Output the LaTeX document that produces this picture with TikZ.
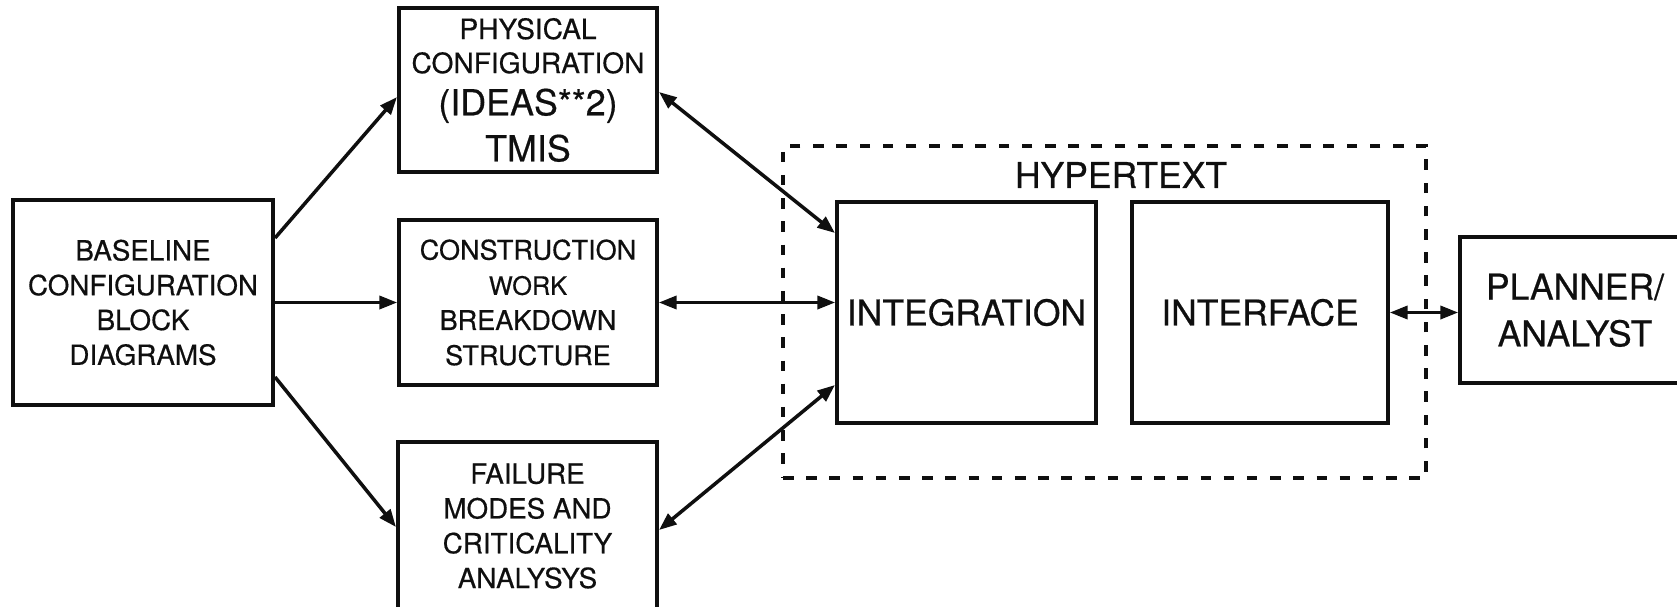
\documentclass[tikz,border=0pt]{standalone}
\usepackage{fontspec}
\setmainfont{TeX Gyre Heros}[FakeBold=0.5]
\usepackage{tikz}
\usetikzlibrary{arrows.meta}
\definecolor{figline}{RGB}{15,15,15}
\tikzset{
  blk/.style ={draw=figline, line width=1.15pt, inner sep=0pt, align=center, text=figline},
  txs/.style ={font=\fontsize{7.9}{9.9}\selectfont},
  txb/.style ={font=\fontsize{10.1}{12}\selectfont},
  hyp/.style ={draw=figline, line width=0.9pt, dash pattern=on 3pt off 3.6pt},
  ar/.style  ={draw=figline, line width=1pt, -{Triangle[length=5pt,width=3.8pt]}},
  arr/.style ={draw=figline, line width=1pt, {Triangle[length=5pt,width=3.8pt]}-{Triangle[length=5pt,width=3.8pt]}},
}

\begin{document}
\begin{tikzpicture}
  \path[use as bounding box, clip] (0,0) rectangle (16.77,-6.06);
  \node[hyp, minimum width=6.43cm, minimum height=3.32cm] (hypbox) at (11.045,-3.12) {};
  \node[txb, text=figline, inner sep=0pt] (hyptxt) at (11.21,-1.75) {HYPERTEXT};
  \node[blk, txs, minimum width=2.60cm, minimum height=2.05cm] (base) at (1.43,-3.025)
    {BASELINE\\CONFIGURATION\\BLOCK\\DIAGRAMS};
  \node[blk, font=\fontsize{8}{9.7}\selectfont, minimum width=2.58cm, minimum height=1.64cm] (phys) at (5.28,-0.90)
    {PHYSICAL\\CONFIGURATION\\[2.3pt]{\fontsize{10.2}{12}\selectfont (IDEAS**2)}\\[2.3pt]{\fontsize{10.2}{12}\selectfont TMIS}};
  \node[blk, font=\fontsize{7.7}{10}\selectfont, minimum width=2.58cm, minimum height=1.65cm] (cons) at (5.28,-3.025)
    {CONSTRUCTION\\{\fontsize{7.2}{10}\selectfont WORK}\\BREAKDOWN\\STRUCTURE};
  \node[blk, txs, minimum width=2.59cm, minimum height=1.68cm] (fail) at (5.275,-5.26)
    {FAILURE\\MODES AND\\CRITICALITY\\ANALYSYS};
  \node[blk, txb, minimum width=2.59cm, minimum height=2.21cm] (integ) at (9.665,-3.125) {INTEGRATION};
  \node[blk, txb, minimum width=2.56cm, minimum height=2.21cm] (intf) at (12.60,-3.125) {INTERFACE};
  \node[blk, txb, font=\fontsize{10.1}{13.3}\selectfont, minimum width=2.30cm, minimum height=1.46cm,
    text depth=-0.5mm] (plan) at (15.75,-3.10) {PLANNER/\\ANALYST};
  \draw[ar] ([yshift=6.45mm]base.east) -- ([yshift=-0.7mm]phys.west);
  \draw[ar, line width=0.7pt] (base.east) -- (cons.west);
  \draw[ar] ([yshift=-7.45mm]base.east) -- ([yshift=-0.1mm]fail.west);
  \draw[arr] ([yshift=-0.2mm]phys.east) -- ([yshift=7.95mm]integ.west);
  \draw[arr, line width=0.7pt] (cons.east) -- (cons.east -| integ.west);
  \draw[arr] ([yshift=-0.4mm]fail.east) -- ([yshift=-7.25mm]integ.west);
  \draw[arr, line width=0.7pt] (intf.east) -- (intf.east -| plan.west);
\end{tikzpicture}
\end{document}
